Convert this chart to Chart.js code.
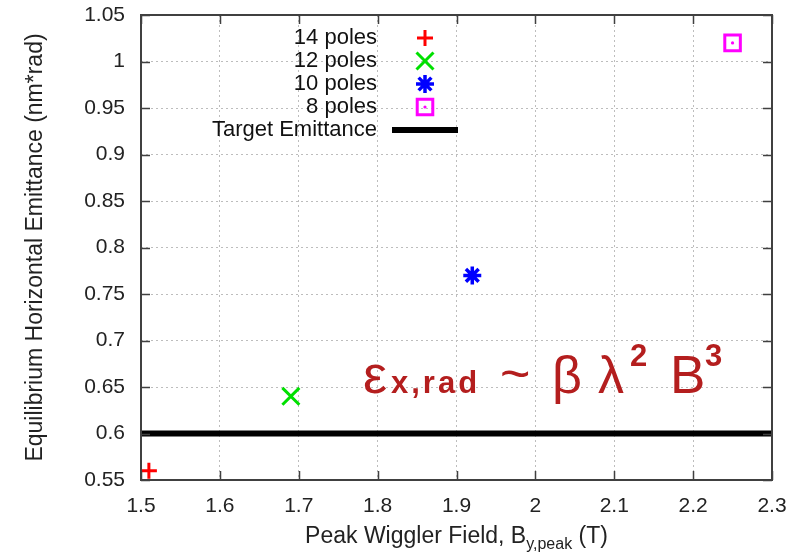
<!DOCTYPE html>
<html><head><meta charset="utf-8">
<script src="https://cdn.jsdelivr.net/npm/chart.js@4/dist/chart.umd.min.js"></script>
<style>html,body{margin:0;padding:0;background:#fff;}#wrap{width:801px;height:555px;position:relative;}</style>
</head><body><div id="wrap"><canvas id="c" width="801" height="555"></canvas></div>
<script>
const seriesLabels = ['14 poles', '12 poles', '10 poles', '8 poles'];
const peakField = [1.51, 1.69, 1.92, 2.25];
const emittance = [0.56, 0.64, 0.77, 1.02];
const targetLabel = 'Target Emittance';
const targetEmittance = 0.60;
const xTickValues = [1.5, 1.6, 1.7, 1.8, 1.9, 2.0, 2.1, 2.2, 2.3];
const yTickValues = [0.55, 0.6, 0.65, 0.7, 0.75, 0.8, 0.85, 0.9, 0.95, 1.0, 1.05];
const xTitleMain = 'Peak Wiggler Field, B';
const xTitleSub = 'y,peak';
const xTitleEnd = ' (T)';
const yTitle = 'Equilibrium Horizontal Emittance (nm*rad)';

const FONT = "'Liberation Sans', Arial, Helvetica, sans-serif";
const markerStyles = [
  {color: '#ff0000', pointStyle: 'cross', radius: 8, borderWidth: 3},
  {color: '#00e000', pointStyle: 'crossRot', radius: 12, borderWidth: 3},
  {color: '#0000ff', pointStyle: 'star', radius: 9, borderWidth: 3.5},
  {color: '#ff00ff', pointStyle: 'rect', radius: 11, borderWidth: 3}
];

const datasets = [{
  type: 'line',
  label: targetLabel,
  data: [{x: xTickValues[0], y: targetEmittance}, {x: xTickValues[xTickValues.length - 1], y: targetEmittance}],
  borderColor: '#000000',
  borderWidth: 6,
  pointRadius: 0,
  fill: false,
  order: 10
}];
seriesLabels.forEach((lab, i) => {
  const m = markerStyles[i];
  datasets.push({
    type: 'scatter',
    label: lab,
    data: [{x: peakField[i], y: emittance[i]}],
    pointStyle: m.pointStyle,
    pointRadius: m.radius,
    pointHoverRadius: m.radius,
    pointBorderWidth: m.borderWidth,
    pointBorderColor: m.color,
    pointBackgroundColor: 'rgba(0,0,0,0)',
    borderColor: m.color,
    backgroundColor: 'rgba(0,0,0,0)',
    order: 1
  });
});

function drawMarker(ctx, m, x, y) {
  ctx.save();
  ctx.strokeStyle = m.color;
  ctx.fillStyle = 'rgba(0,0,0,0)';
  ctx.lineWidth = m.borderWidth;
  Chart.helpers.drawPoint(ctx, {pointStyle: m.pointStyle, radius: m.radius, borderWidth: m.borderWidth, rotation: 0}, x, y);
  if (m.pointStyle === 'rect') {
    ctx.fillStyle = m.color;
    ctx.beginPath(); ctx.arc(x, y, 1.6, 0, Math.PI * 2); ctx.fill();
  }
  ctx.restore();
}

const decor = {
  id: 'decor',
  afterDatasetsDraw(chart) {
    const ctx = chart.ctx;
    seriesLabels.forEach((lab, i) => {
      if (markerStyles[i].pointStyle !== 'rect') return;
      const el = chart.getDatasetMeta(i + 1).data[0];
      ctx.save(); ctx.fillStyle = markerStyles[i].color;
      ctx.beginPath(); ctx.arc(el.x, el.y, 1.6, 0, Math.PI * 2); ctx.fill(); ctx.restore();
    });
  },
  afterDraw(chart) {
    const ctx = chart.ctx;
    const a = chart.chartArea;
    const xs = chart.scales.x, ys = chart.scales.y;
    ctx.save();
    ctx.strokeStyle = '#404040';
    ctx.lineWidth = 2;
    ctx.strokeRect(a.left, a.top, a.right - a.left, a.bottom - a.top);
    ctx.lineWidth = 1.5;
    const tl = 9;
    ctx.beginPath();
    xTickValues.forEach(v => {
      const px = Math.round(xs.getPixelForValue(v)) + 0.5;
      ctx.moveTo(px, a.bottom); ctx.lineTo(px, a.bottom - tl);
      ctx.moveTo(px, a.top); ctx.lineTo(px, a.top + tl);
    });
    yTickValues.forEach(v => {
      const py = Math.round(ys.getPixelForValue(v)) + 0.5;
      ctx.moveTo(a.left, py); ctx.lineTo(a.left + tl, py);
      ctx.moveTo(a.right, py); ctx.lineTo(a.right - tl, py);
    });
    ctx.stroke();

    // legend
    ctx.font = '22px ' + FONT;
    ctx.fillStyle = '#111';
    ctx.textAlign = 'right';
    ctx.textBaseline = 'middle';
    const lx = 377, mx = 425, ly0 = 38, dy = 23;
    seriesLabels.forEach((lab, i) => {
      const y = ly0 + i * dy;
      ctx.fillText(lab, lx, y);
      drawMarker(ctx, markerStyles[i], mx, y);
    });
    const ty = ly0 + seriesLabels.length * dy;
    ctx.fillText(targetLabel, lx, ty);
    ctx.strokeStyle = '#000'; ctx.lineWidth = 6;
    ctx.beginPath(); ctx.moveTo(392, ty); ctx.lineTo(458, ty); ctx.stroke();

    // y title
    ctx.save();
    ctx.translate(42, (a.top + a.bottom) / 2);
    ctx.rotate(-Math.PI / 2);
    ctx.textAlign = 'center';
    ctx.textBaseline = 'alphabetic';
    ctx.font = '23px ' + FONT;
    ctx.fillStyle = '#222';
    ctx.fillText(yTitle, 0, 0);
    ctx.restore();

    // x title with subscript
    ctx.textAlign = 'left';
    ctx.textBaseline = 'alphabetic';
    ctx.fillStyle = '#222';
    const fMain = '23px ' + FONT, fSub = '16px ' + FONT;
    ctx.font = fMain; const w1 = ctx.measureText(xTitleMain).width; const w3 = ctx.measureText(xTitleEnd).width;
    ctx.font = fSub; const w2 = ctx.measureText(xTitleSub).width;
    let x0 = (a.left + a.right) / 2 - (w1 + w2 + w3) / 2;
    const bl = 543;
    ctx.font = fMain; ctx.fillText(xTitleMain, x0, bl);
    ctx.font = fSub; ctx.fillText(xTitleSub, x0 + w1, bl + 6);
    ctx.font = fMain; ctx.fillText(xTitleEnd, x0 + w1 + w2, bl);

    // formula annotation
    const red = '#b41e1e';
    ctx.fillStyle = red;
    const base = 393, sup = 366;
    const parts = [
      {t: '\u03b5', f: '54px ' + FONT, x: 363, y: base, ls: '0px'},
      {t: 'x,rad', f: 'bold 31px ' + FONT, x: 391, y: base, ls: '3px'},
      {t: '~', f: '52px ' + FONT, x: 500, y: base - 2, ls: '0px'},
      {t: '\u03b2', f: '52px ' + FONT, x: 552, y: base, ls: '0px'},
      {t: '\u03bb', f: '52px ' + FONT, x: 598, y: base, ls: '0px'},
      {t: '2', f: 'bold 31px ' + FONT, x: 630, y: sup, ls: '0px'},
      {t: 'B', f: '53px ' + FONT, x: 670, y: base, ls: '0px'},
      {t: '3', f: 'bold 31px ' + FONT, x: 705, y: sup, ls: '0px'}
    ];
    parts.forEach(p => { ctx.font = p.f; ctx.letterSpacing = p.ls; ctx.fillText(p.t, p.x, p.y); });
    ctx.letterSpacing = '0px';
    ctx.restore();
  }
};

new Chart(document.getElementById('c'), {
  data: {datasets},
  options: {
    responsive: false,
    animation: false,
    events: [],
    layout: {padding: {top: 15, right: 29, left: 0, bottom: 0}},
    plugins: {legend: {display: false}, tooltip: {enabled: false}, title: {display: false}},
    scales: {
      x: {
        type: 'linear',
        min: xTickValues[0],
        max: xTickValues[xTickValues.length - 1],
        afterBuildTicks: s => { s.ticks = xTickValues.map(v => ({value: v})); },
        afterFit: s => { s.height = 75; s.paddingLeft = 0; s.paddingRight = 0; },
        ticks: {
          color: '#222',
          font: {family: FONT, size: 21},
          padding: 14,
          maxRotation: 0,
          autoSkip: false,
          callback: v => String(Number(v.toFixed(2)))
        },
        grid: {color: '#bdbdbd', lineWidth: 1, drawTicks: false},
        border: {display: false, dash: [2, 3]}
      },
      y: {
        type: 'linear',
        min: yTickValues[0],
        max: yTickValues[yTickValues.length - 1],
        afterBuildTicks: s => { s.ticks = yTickValues.map(v => ({value: v})); },
        afterFit: s => { s.width = 141; s.paddingTop = 0; s.paddingBottom = 0; },
        ticks: {
          color: '#222',
          font: {family: FONT, size: 21},
          padding: 16,
          autoSkip: false,
          callback: v => String(Number(v.toFixed(2)))
        },
        grid: {color: '#bdbdbd', lineWidth: 1, drawTicks: false},
        border: {display: false, dash: [2, 3]}
      }
    }
  },
  plugins: [decor]
});
</script></body></html>
